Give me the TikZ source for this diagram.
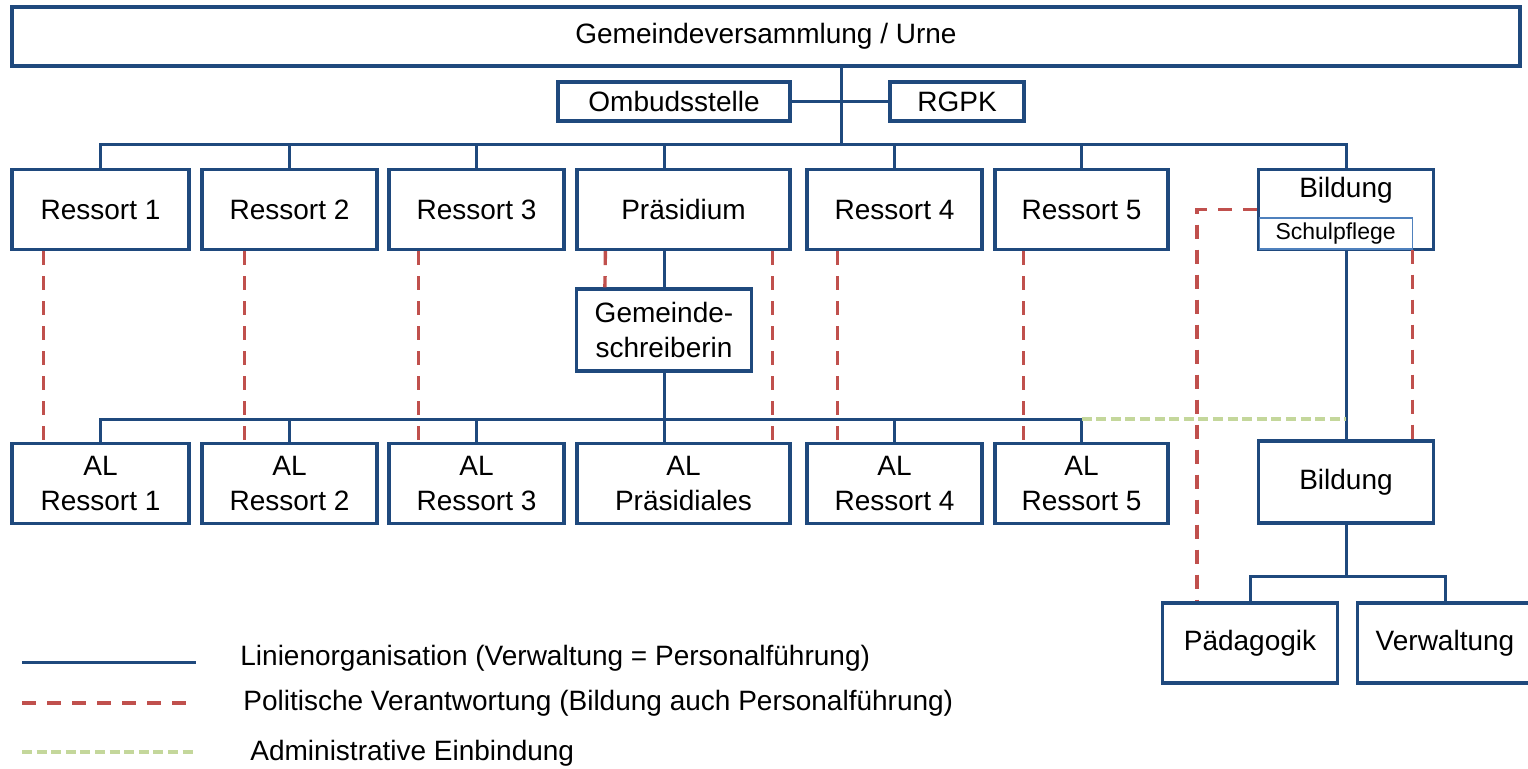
\documentclass[tikz,border=0pt]{standalone}
\usepackage{fontspec}
\setmainfont{Liberation Sans}
\definecolor{orgblue}{HTML}{1F497D}
\definecolor{lightblue}{HTML}{4F81BD}
\definecolor{polred}{HTML}{C0504D}
\definecolor{admgreen}{HTML}{C4D79B}

\begin{document}
\begin{tikzpicture}[x=0.5pt,y=-0.5pt,font=\fontsize{14}{17.5}\selectfont,
	box/.style={draw=orgblue,line width=1.6pt,fill=white,inner sep=0pt,align=center,minimum width=87.5pt,minimum height=40pt},
	linie/.style={draw=orgblue,line width=1.5pt},
	politik/.style={draw=polred,line width=1.7pt,dash pattern=on 7pt off 5.5pt},
	admin/.style={draw=admgreen,line width=2pt,dash pattern=on 5pt off 2.3pt},
	legende/.style={anchor=base west,inner sep=0pt}]
				\useasboundingbox (0,0) rectangle (1528,768);
				\node[box,minimum width=754pt,minimum height=29.5pt] (gv) at (766,36.5) {Gemeindeversammlung / Urne};
				\node[box,minimum width=116pt,minimum height=19.5pt] (omb) at (674,101.5) {Ombudsstelle};
				\node[box,minimum width=67pt,minimum height=19.5pt] (rgpk) at (957,101.5) {RGPK};
				\node[box,minimum width=88.5pt] (r1) at (100.5,209.5) {Ressort 1};
				\node[box] (r2) at (289.5,209.5) {Ressort 2};
				\node[box] (r3) at (476.5,209.5) {Ressort 3};
				\node[box,minimum width=106.5pt] (pr) at (683.5,209.5) {Präsidium};
				\node[box] (r4) at (894.5,209.5) {Ressort 4};
				\node[box,minimum width=86.5pt] (r5) at (1081.5,209.5) {Ressort 5};
				\node[box] (bi) at (1346,209.5) {};
				\node[anchor=base] (bit) at (1346,197) {Bildung};
				\node[draw=lightblue,line width=0.6pt,inner sep=0pt,minimum width=76.5pt,minimum height=15.5pt,anchor=south west,font=\fontsize{11.5}{13}\selectfont] (sp) at ([shift={(0.8pt,0.8pt)}]bi.south west) {Schulpflege};
				\node[box,minimum height=41pt] (gs) at (664,330) {Gemeinde-\\schreiberin};
				\node[box,minimum width=88.5pt] (a1) at (100.5,483.5) {AL\\Ressort 1};
				\node[box] (a2) at (289.5,483.5) {AL\\Ressort 2};
				\node[box] (a3) at (476.5,483.5) {AL\\Ressort 3};
				\node[box,minimum width=106.5pt] (ap) at (683.5,483.5) {AL\\Präsidiales};
				\node[box] (a4) at (894.5,483.5) {AL\\Ressort 4};
				\node[box,minimum width=86.5pt] (a5) at (1081.5,483.5) {AL\\Ressort 5};
				\node[box,minimum height=41pt] (bi2) at (1346,482) {Bildung};
				\node[box] (pa) at (1250,643) {Pädagogik};
				\node[box] (vw) at (1445,643) {Verwaltung};
				\coordinate (k1) at (841,144);
				\coordinate (k2) at (664,419);
				\coordinate (k3) at (1346,576);
				\draw[linie] (gv.south -| k1) -- (k1);
				\draw[linie] (omb) -- (rgpk);
				\draw[linie] (r1.north) |- (k1) -| (bi.north);
				\foreach \n in {r2,r3,r4,r5}
					\draw[linie] (\n.north) -- (\n.north |- k1);
				\draw[linie] (gs.north |- k1) -- (gs.north |- pr.north);
				\draw[linie] (gs.north |- pr.south) -- (gs.north);
				\draw[linie] (gs.south) -- (gs.south |- ap.north);
				\draw[linie] (a1.north) |- (k2) -| (a5.north);
				\foreach \n in {a2,a3,a4}
					\draw[linie] (\n.north) -- (\n.north |- k2);
				\draw[linie] (bi.south) -- (bi2.north);
				\draw[linie] (bi2.south) -- (k3);
				\draw[linie] (pa.north) |- (k3) -| (vw.north);
				\draw[admin] (k2 -| a5.north) -- (k2 -| bi2.north);
				\foreach \n/\d in {1/33,2/44,3/31,4/32,5/30}
					\draw[politik] ([xshift=\d*0.5pt]r\n.south west) -- ([xshift=\d*0.5pt]a\n.north west);
				\draw[politik] ([xshift=15pt]pr.south west) -- ([xshift=15pt]gs.north west);
				\draw[politik] ([xshift=-9.5pt]pr.south east) -- ([xshift=-9.5pt]ap.north east);
				\draw[politik] (bi.west) -| ([xshift=18pt]pa.north west);
				\draw[politik] (sp.south east) -- (sp.south east |- bi2.north);
				\coordinate (l1a) at (22,662);
				\coordinate (l1b) at (196,662);
				\coordinate (l2a) at (22,703);
				\coordinate (l2b) at (189,703);
				\coordinate (l3a) at (22,752);
				\coordinate (l3b) at (193,752);
				\draw[linie] (l1a) -- (l1b);
				\draw[politik] (l2a) -- (l2b);
				\draw[admin] (l3a) -- (l3b);
				\node[legende] (t1) at (240,665) {Linienorganisation (Verwaltung = Personalführung)};
				\node[legende] (t2) at (243,710) {Politische Verantwortung (Bildung auch Personalführung)};
				\node[legende] (t3) at (250,760) {Administrative Einbindung};
			\end{tikzpicture}
\end{document}
